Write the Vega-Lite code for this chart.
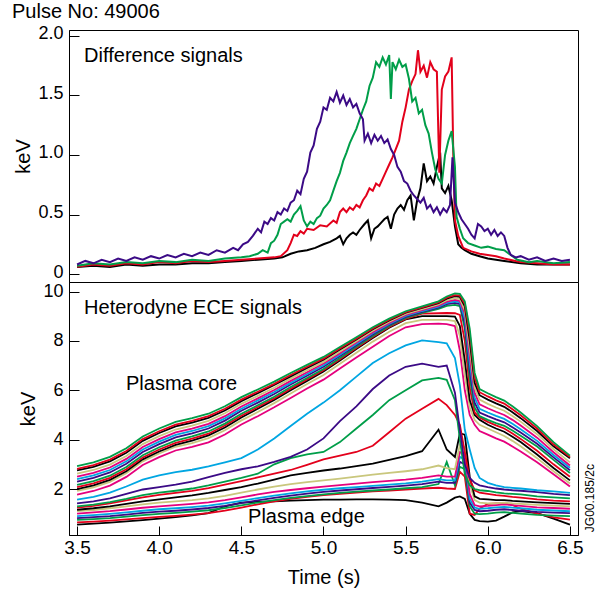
{
"$schema": "https://vega.github.io/schema/vega-lite/v6.json",
"background": "white",
"padding": {"left": 11, "top": 1, "right": 0, "bottom": 0},
"spacing": 0,
"bounds": "flush",
"resolve": {"scale": {"color": "independent"}},
"config": {
 "font": "Liberation Sans",
 "view": {"stroke": "#000", "strokeWidth": 1},
 "axis": {"domainColor": "#000", "tickColor": "#000", "labelColor": "#000", "titleColor": "#000", "grid": false, "labelFontSize": 19, "titleFontSize": 20, "titleFontWeight": "normal", "labelFont": "Liberation Sans", "titleFont": "Liberation Sans"}
},
"datasets": {
 "diff": [
{"s":"K","t":3.5,"v":0.06},{"s":"K","t":3.6,"v":0.07},{"s":"K","t":3.7,"v":0.06},{"s":"K","t":3.8,"v":0.08},{"s":"K","t":3.9,"v":0.07},{"s":"K","t":4.0,"v":0.08},{"s":"K","t":4.1,"v":0.08},{"s":"K","t":4.2,"v":0.09},{"s":"K","t":4.3,"v":0.09},{"s":"K","t":4.4,"v":0.10},{"s":"K","t":4.5,"v":0.11},{"s":"K","t":4.6,"v":0.12},{"s":"K","t":4.7,"v":0.13},{"s":"K","t":4.75,"v":0.14},{"s":"K","t":4.8,"v":0.17},{"s":"K","t":4.85,"v":0.19},{"s":"K","t":4.9,"v":0.20},{"s":"K","t":4.95,"v":0.22},{"s":"K","t":5.0,"v":0.25},{"s":"K","t":5.04,"v":0.27},{"s":"K","t":5.08,"v":0.30},{"s":"K","t":5.1,"v":0.32},{"s":"K","t":5.12,"v":0.25},{"s":"K","t":5.14,"v":0.30},{"s":"K","t":5.16,"v":0.33},{"s":"K","t":5.18,"v":0.35},{"s":"K","t":5.2,"v":0.33},{"s":"K","t":5.22,"v":0.37},{"s":"K","t":5.25,"v":0.42},{"s":"K","t":5.27,"v":0.45},{"s":"K","t":5.29,"v":0.30},{"s":"K","t":5.31,"v":0.38},{"s":"K","t":5.33,"v":0.40},{"s":"K","t":5.35,"v":0.43},{"s":"K","t":5.37,"v":0.46},{"s":"K","t":5.39,"v":0.48},{"s":"K","t":5.41,"v":0.38},{"s":"K","t":5.43,"v":0.50},{"s":"K","t":5.45,"v":0.55},{"s":"K","t":5.47,"v":0.58},{"s":"K","t":5.49,"v":0.54},{"s":"K","t":5.51,"v":0.62},{"s":"K","t":5.53,"v":0.66},{"s":"K","t":5.55,"v":0.45},{"s":"K","t":5.57,"v":0.62},{"s":"K","t":5.59,"v":0.72},{"s":"K","t":5.61,"v":0.93},{"s":"K","t":5.63,"v":0.78},{"s":"K","t":5.65,"v":0.82},{"s":"K","t":5.67,"v":0.76},{"s":"K","t":5.69,"v":0.90},{"s":"K","t":5.71,"v":1.02},{"s":"K","t":5.72,"v":0.72},{"s":"K","t":5.74,"v":0.68},{"s":"K","t":5.76,"v":0.74},{"s":"K","t":5.78,"v":0.62},{"s":"K","t":5.8,"v":0.40},{"s":"K","t":5.82,"v":0.25},{"s":"K","t":5.84,"v":0.22},{"s":"K","t":5.86,"v":0.20},{"s":"K","t":5.9,"v":0.17},{"s":"K","t":5.95,"v":0.15},{"s":"K","t":6.0,"v":0.13},{"s":"K","t":6.1,"v":0.11},{"s":"K","t":6.2,"v":0.09},{"s":"K","t":6.3,"v":0.08},{"s":"K","t":6.4,"v":0.08},{"s":"K","t":6.5,"v":0.08},
{"s":"R","t":3.5,"v":0.06},{"s":"R","t":3.6,"v":0.08},{"s":"R","t":3.7,"v":0.07},{"s":"R","t":3.8,"v":0.09},{"s":"R","t":3.9,"v":0.08},{"s":"R","t":4.0,"v":0.10},{"s":"R","t":4.1,"v":0.09},{"s":"R","t":4.2,"v":0.11},{"s":"R","t":4.3,"v":0.10},{"s":"R","t":4.4,"v":0.11},{"s":"R","t":4.5,"v":0.12},{"s":"R","t":4.6,"v":0.13},{"s":"R","t":4.7,"v":0.14},{"s":"R","t":4.74,"v":0.15},{"s":"R","t":4.78,"v":0.20},{"s":"R","t":4.8,"v":0.26},{"s":"R","t":4.82,"v":0.33},{"s":"R","t":4.84,"v":0.32},{"s":"R","t":4.86,"v":0.36},{"s":"R","t":4.88,"v":0.34},{"s":"R","t":4.9,"v":0.38},{"s":"R","t":4.94,"v":0.37},{"s":"R","t":4.98,"v":0.41},{"s":"R","t":5.02,"v":0.40},{"s":"R","t":5.06,"v":0.45},{"s":"R","t":5.08,"v":0.43},{"s":"R","t":5.1,"v":0.52},{"s":"R","t":5.12,"v":0.55},{"s":"R","t":5.14,"v":0.52},{"s":"R","t":5.16,"v":0.56},{"s":"R","t":5.18,"v":0.54},{"s":"R","t":5.2,"v":0.58},{"s":"R","t":5.22,"v":0.56},{"s":"R","t":5.24,"v":0.62},{"s":"R","t":5.26,"v":0.66},{"s":"R","t":5.28,"v":0.72},{"s":"R","t":5.3,"v":0.70},{"s":"R","t":5.32,"v":0.76},{"s":"R","t":5.34,"v":0.74},{"s":"R","t":5.36,"v":0.80},{"s":"R","t":5.38,"v":0.86},{"s":"R","t":5.4,"v":0.92},{"s":"R","t":5.42,"v":0.98},{"s":"R","t":5.44,"v":1.05},{"s":"R","t":5.46,"v":1.12},{"s":"R","t":5.48,"v":1.28},{"s":"R","t":5.5,"v":1.40},{"s":"R","t":5.52,"v":1.55},{"s":"R","t":5.54,"v":1.62},{"s":"R","t":5.56,"v":1.68},{"s":"R","t":5.575,"v":1.88},{"s":"R","t":5.59,"v":1.70},{"s":"R","t":5.61,"v":1.75},{"s":"R","t":5.63,"v":1.65},{"s":"R","t":5.65,"v":1.78},{"s":"R","t":5.67,"v":1.72},{"s":"R","t":5.69,"v":1.70},{"s":"R","t":5.705,"v":0.85},{"s":"R","t":5.72,"v":1.55},{"s":"R","t":5.74,"v":1.66},{"s":"R","t":5.76,"v":1.70},{"s":"R","t":5.78,"v":1.82},{"s":"R","t":5.79,"v":1.0},{"s":"R","t":5.8,"v":0.45},{"s":"R","t":5.82,"v":0.32},{"s":"R","t":5.85,"v":0.22},{"s":"R","t":5.9,"v":0.19},{"s":"R","t":5.95,"v":0.17},{"s":"R","t":6.0,"v":0.16},{"s":"R","t":6.05,"v":0.15},{"s":"R","t":6.1,"v":0.13},{"s":"R","t":6.2,"v":0.10},{"s":"R","t":6.3,"v":0.09},{"s":"R","t":6.4,"v":0.08},{"s":"R","t":6.5,"v":0.08},
{"s":"G","t":3.5,"v":0.07},{"s":"G","t":3.6,"v":0.09},{"s":"G","t":3.7,"v":0.08},{"s":"G","t":3.8,"v":0.10},{"s":"G","t":3.9,"v":0.09},{"s":"G","t":4.0,"v":0.11},{"s":"G","t":4.1,"v":0.10},{"s":"G","t":4.2,"v":0.12},{"s":"G","t":4.3,"v":0.11},{"s":"G","t":4.4,"v":0.13},{"s":"G","t":4.5,"v":0.14},{"s":"G","t":4.55,"v":0.15},{"s":"G","t":4.6,"v":0.17},{"s":"G","t":4.63,"v":0.20},{"s":"G","t":4.66,"v":0.18},{"s":"G","t":4.68,"v":0.26},{"s":"G","t":4.7,"v":0.28},{"s":"G","t":4.72,"v":0.33},{"s":"G","t":4.74,"v":0.42},{"s":"G","t":4.76,"v":0.44},{"s":"G","t":4.78,"v":0.46},{"s":"G","t":4.8,"v":0.44},{"s":"G","t":4.82,"v":0.50},{"s":"G","t":4.84,"v":0.53},{"s":"G","t":4.86,"v":0.57},{"s":"G","t":4.88,"v":0.45},{"s":"G","t":4.9,"v":0.40},{"s":"G","t":4.92,"v":0.44},{"s":"G","t":4.94,"v":0.42},{"s":"G","t":4.96,"v":0.47},{"s":"G","t":4.98,"v":0.49},{"s":"G","t":5.0,"v":0.55},{"s":"G","t":5.02,"v":0.58},{"s":"G","t":5.04,"v":0.62},{"s":"G","t":5.06,"v":0.70},{"s":"G","t":5.08,"v":0.78},{"s":"G","t":5.1,"v":0.85},{"s":"G","t":5.12,"v":0.95},{"s":"G","t":5.14,"v":1.02},{"s":"G","t":5.16,"v":1.10},{"s":"G","t":5.18,"v":1.16},{"s":"G","t":5.2,"v":1.22},{"s":"G","t":5.22,"v":1.30},{"s":"G","t":5.24,"v":1.38},{"s":"G","t":5.26,"v":1.45},{"s":"G","t":5.28,"v":1.58},{"s":"G","t":5.3,"v":1.65},{"s":"G","t":5.32,"v":1.78},{"s":"G","t":5.34,"v":1.74},{"s":"G","t":5.36,"v":1.82},{"s":"G","t":5.38,"v":1.76},{"s":"G","t":5.4,"v":1.84},{"s":"G","t":5.41,"v":1.47},{"s":"G","t":5.42,"v":1.78},{"s":"G","t":5.44,"v":1.72},{"s":"G","t":5.46,"v":1.80},{"s":"G","t":5.48,"v":1.74},{"s":"G","t":5.5,"v":1.76},{"s":"G","t":5.52,"v":1.64},{"s":"G","t":5.54,"v":1.45},{"s":"G","t":5.56,"v":1.48},{"s":"G","t":5.58,"v":1.35},{"s":"G","t":5.6,"v":1.38},{"s":"G","t":5.62,"v":1.25},{"s":"G","t":5.64,"v":1.18},{"s":"G","t":5.66,"v":1.02},{"s":"G","t":5.68,"v":0.88},{"s":"G","t":5.7,"v":0.80},{"s":"G","t":5.72,"v":0.76},{"s":"G","t":5.74,"v":1.00},{"s":"G","t":5.76,"v":1.12},{"s":"G","t":5.78,"v":1.20},{"s":"G","t":5.8,"v":0.90},{"s":"G","t":5.81,"v":0.48},{"s":"G","t":5.83,"v":0.38},{"s":"G","t":5.85,"v":0.30},{"s":"G","t":5.88,"v":0.26},{"s":"G","t":5.92,"v":0.24},{"s":"G","t":5.96,"v":0.22},{"s":"G","t":6.0,"v":0.23},{"s":"G","t":6.05,"v":0.21},{"s":"G","t":6.1,"v":0.20},{"s":"G","t":6.14,"v":0.16},{"s":"G","t":6.18,"v":0.12},{"s":"G","t":6.25,"v":0.10},{"s":"G","t":6.3,"v":0.11},{"s":"G","t":6.4,"v":0.09},{"s":"G","t":6.5,"v":0.10},
{"s":"P","t":3.5,"v":0.08},{"s":"P","t":3.55,"v":0.11},{"s":"P","t":3.6,"v":0.09},{"s":"P","t":3.65,"v":0.12},{"s":"P","t":3.7,"v":0.10},{"s":"P","t":3.75,"v":0.13},{"s":"P","t":3.8,"v":0.11},{"s":"P","t":3.85,"v":0.14},{"s":"P","t":3.9,"v":0.12},{"s":"P","t":3.95,"v":0.15},{"s":"P","t":4.0,"v":0.13},{"s":"P","t":4.05,"v":0.16},{"s":"P","t":4.1,"v":0.14},{"s":"P","t":4.15,"v":0.17},{"s":"P","t":4.2,"v":0.15},{"s":"P","t":4.25,"v":0.18},{"s":"P","t":4.3,"v":0.16},{"s":"P","t":4.35,"v":0.20},{"s":"P","t":4.4,"v":0.18},{"s":"P","t":4.45,"v":0.22},{"s":"P","t":4.48,"v":0.20},{"s":"P","t":4.51,"v":0.25},{"s":"P","t":4.54,"v":0.27},{"s":"P","t":4.57,"v":0.32},{"s":"P","t":4.6,"v":0.38},{"s":"P","t":4.62,"v":0.35},{"s":"P","t":4.64,"v":0.44},{"s":"P","t":4.66,"v":0.42},{"s":"P","t":4.68,"v":0.47},{"s":"P","t":4.7,"v":0.45},{"s":"P","t":4.72,"v":0.52},{"s":"P","t":4.74,"v":0.50},{"s":"P","t":4.76,"v":0.55},{"s":"P","t":4.78,"v":0.53},{"s":"P","t":4.8,"v":0.60},{"s":"P","t":4.82,"v":0.62},{"s":"P","t":4.84,"v":0.70},{"s":"P","t":4.86,"v":0.67},{"s":"P","t":4.88,"v":0.80},{"s":"P","t":4.9,"v":0.86},{"s":"P","t":4.92,"v":1.02},{"s":"P","t":4.94,"v":1.08},{"s":"P","t":4.96,"v":1.22},{"s":"P","t":4.98,"v":1.28},{"s":"P","t":5.0,"v":1.40},{"s":"P","t":5.02,"v":1.38},{"s":"P","t":5.04,"v":1.48},{"s":"P","t":5.06,"v":1.45},{"s":"P","t":5.08,"v":1.53},{"s":"P","t":5.1,"v":1.44},{"s":"P","t":5.12,"v":1.50},{"s":"P","t":5.14,"v":1.42},{"s":"P","t":5.16,"v":1.47},{"s":"P","t":5.18,"v":1.40},{"s":"P","t":5.2,"v":1.43},{"s":"P","t":5.22,"v":1.35},{"s":"P","t":5.24,"v":1.30},{"s":"P","t":5.25,"v":1.12},{"s":"P","t":5.27,"v":1.18},{"s":"P","t":5.29,"v":1.10},{"s":"P","t":5.31,"v":1.17},{"s":"P","t":5.33,"v":1.12},{"s":"P","t":5.35,"v":1.16},{"s":"P","t":5.37,"v":1.10},{"s":"P","t":5.39,"v":1.13},{"s":"P","t":5.41,"v":1.05},{"s":"P","t":5.43,"v":1.00},{"s":"P","t":5.45,"v":0.90},{"s":"P","t":5.47,"v":0.86},{"s":"P","t":5.49,"v":0.78},{"s":"P","t":5.51,"v":0.76},{"s":"P","t":5.53,"v":0.70},{"s":"P","t":5.55,"v":0.66},{"s":"P","t":5.57,"v":0.63},{"s":"P","t":5.59,"v":0.60},{"s":"P","t":5.61,"v":0.64},{"s":"P","t":5.63,"v":0.55},{"s":"P","t":5.65,"v":0.58},{"s":"P","t":5.67,"v":0.52},{"s":"P","t":5.69,"v":0.56},{"s":"P","t":5.71,"v":0.50},{"s":"P","t":5.73,"v":0.55},{"s":"P","t":5.75,"v":0.52},{"s":"P","t":5.77,"v":0.58},{"s":"P","t":5.785,"v":0.98},{"s":"P","t":5.8,"v":0.60},{"s":"P","t":5.82,"v":0.52},{"s":"P","t":5.84,"v":0.46},{"s":"P","t":5.86,"v":0.42},{"s":"P","t":5.88,"v":0.38},{"s":"P","t":5.9,"v":0.33},{"s":"P","t":5.92,"v":0.30},{"s":"P","t":5.94,"v":0.42},{"s":"P","t":5.96,"v":0.40},{"s":"P","t":5.98,"v":0.36},{"s":"P","t":6.0,"v":0.38},{"s":"P","t":6.02,"v":0.33},{"s":"P","t":6.04,"v":0.37},{"s":"P","t":6.06,"v":0.32},{"s":"P","t":6.08,"v":0.35},{"s":"P","t":6.1,"v":0.32},{"s":"P","t":6.12,"v":0.22},{"s":"P","t":6.14,"v":0.16},{"s":"P","t":6.17,"v":0.14},{"s":"P","t":6.2,"v":0.15},{"s":"P","t":6.25,"v":0.12},{"s":"P","t":6.3,"v":0.14},{"s":"P","t":6.35,"v":0.11},{"s":"P","t":6.4,"v":0.13},{"s":"P","t":6.45,"v":0.11},{"s":"P","t":6.5,"v":0.12}
 ],
 "ece": [
{"t":3.5,"c01":2.93,"c02":2.82,"c03":2.75,"c04":2.62,"c05":2.5,"c06":2.4,"c07":2.3,"c08":2.17,"c09":2.08,"c10":2.0,"c11":1.92,"c12":1.77,"c13":1.57,"c14":1.42,"c15":1.3,"c16":1.25,"c17":1.16,"c18":1.1,"c19":1.0,"c20":0.9,"c21":0.82,"c22":0.75,"c23":0.65,"c24":0.56},
{"t":3.6,"c01":3.08,"c02":2.97,"c03":2.9,"c04":2.77,"c05":2.65,"c06":2.55,"c07":2.45,"c08":2.32,"c09":2.23,"c10":2.15,"c11":2.07,"c12":1.92,"c13":1.68,"c14":1.5,"c15":1.37,"c16":1.32,"c17":1.22,"c18":1.15,"c19":1.05,"c20":0.94,"c21":0.86,"c22":0.78,"c23":0.68,"c24":0.6},
{"t":3.7,"c01":3.3,"c02":3.19,"c03":3.12,"c04":2.99,"c05":2.87,"c06":2.77,"c07":2.67,"c08":2.54,"c09":2.45,"c10":2.37,"c11":2.29,"c12":2.14,"c13":1.85,"c14":1.62,"c15":1.47,"c16":1.42,"c17":1.3,"c18":1.22,"c19":1.1,"c20":0.99,"c21":0.9,"c22":0.82,"c23":0.72,"c24":0.64},
{"t":3.8,"c01":3.65,"c02":3.54,"c03":3.47,"c04":3.34,"c05":3.22,"c06":3.12,"c07":3.02,"c08":2.89,"c09":2.8,"c10":2.72,"c11":2.64,"c12":2.49,"c13":2.1,"c14":1.8,"c15":1.6,"c16":1.54,"c17":1.4,"c18":1.3,"c19":1.17,"c20":1.05,"c21":0.96,"c22":0.88,"c23":0.77,"c24":0.69},
{"t":3.9,"c01":4.13,"c02":4.02,"c03":3.95,"c04":3.82,"c05":3.7,"c06":3.6,"c07":3.5,"c08":3.37,"c09":3.28,"c10":3.2,"c11":3.12,"c12":2.97,"c13":2.38,"c14":1.98,"c15":1.75,"c16":1.66,"c17":1.5,"c18":1.38,"c19":1.24,"c20":1.12,"c21":1.03,"c22":0.94,"c23":0.82,"c24":0.74},
{"t":4.0,"c01":4.45,"c02":4.34,"c03":4.27,"c04":4.14,"c05":4.02,"c06":3.92,"c07":3.82,"c08":3.69,"c09":3.6,"c10":3.52,"c11":3.44,"c12":3.29,"c13":2.55,"c14":2.08,"c15":1.85,"c16":1.76,"c17":1.58,"c18":1.45,"c19":1.3,"c20":1.18,"c21":1.08,"c22":0.99,"c23":0.87,"c24":0.8},
{"t":4.1,"c01":4.72,"c02":4.61,"c03":4.54,"c04":4.41,"c05":4.29,"c06":4.19,"c07":4.09,"c08":3.96,"c09":3.87,"c10":3.79,"c11":3.71,"c12":3.56,"c13":2.68,"c14":2.18,"c15":1.93,"c16":1.84,"c17":1.66,"c18":1.5,"c19":1.35,"c20":1.22,"c21":1.12,"c22":1.03,"c23":0.91,"c24":0.86},
{"t":4.2,"c01":4.87,"c02":4.76,"c03":4.69,"c04":4.57,"c05":4.45,"c06":4.35,"c07":4.25,"c08":4.13,"c09":4.04,"c10":3.96,"c11":3.86,"c12":3.71,"c13":2.78,"c14":2.3,"c15":2.02,"c16":1.92,"c17":1.74,"c18":1.55,"c19":1.4,"c20":1.27,"c21":1.17,"c22":1.08,"c23":0.96,"c24":0.93},
{"t":4.3,"c01":5.05,"c02":4.95,"c03":4.88,"c04":4.76,"c05":4.64,"c06":4.55,"c07":4.45,"c08":4.33,"c09":4.24,"c10":4.17,"c11":4.06,"c12":3.89,"c13":2.92,"c14":2.48,"c15":2.15,"c16":2.04,"c17":1.84,"c18":1.62,"c19":1.46,"c20":1.33,"c21":1.23,"c22":1.14,"c23":1.02,"c24":1.02},
{"t":4.4,"c01":5.35,"c02":5.25,"c03":5.18,"c04":5.07,"c05":4.95,"c06":4.86,"c07":4.77,"c08":4.65,"c09":4.57,"c10":4.49,"c11":4.38,"c12":4.21,"c13":3.08,"c14":2.65,"c15":2.3,"c16":2.18,"c17":1.96,"c18":1.72,"c19":1.55,"c20":1.42,"c21":1.32,"c22":1.23,"c23":1.12,"c24":1.3},
{"t":4.5,"c01":5.72,"c02":5.62,"c03":5.56,"c04":5.45,"c05":5.34,"c06":5.25,"c07":5.17,"c08":5.05,"c09":4.97,"c10":4.9,"c11":4.78,"c12":4.61,"c13":3.25,"c14":2.8,"c15":2.45,"c16":2.32,"c17":2.08,"c18":1.85,"c19":1.66,"c20":1.52,"c21":1.43,"c22":1.34,"c23":1.25,"c24":1.45},
{"t":4.6,"c01":6.03,"c02":5.94,"c03":5.88,"c04":5.77,"c05":5.67,"c06":5.59,"c07":5.5,"c08":5.39,"c09":5.32,"c10":5.25,"c11":5.12,"c12":4.95,"c13":3.6,"c14":2.92,"c15":2.62,"c16":2.47,"c17":2.22,"c18":1.98,"c19":1.78,"c20":1.63,"c21":1.54,"c22":1.45,"c23":1.38,"c24":1.48},
{"t":4.7,"c01":6.35,"c02":6.26,"c03":6.21,"c04":6.1,"c05":6.01,"c06":5.93,"c07":5.85,"c08":5.74,"c09":5.67,"c10":5.61,"c11":5.48,"c12":5.31,"c13":4.05,"c14":3.1,"c15":3.0,"c16":2.62,"c17":2.38,"c18":2.1,"c19":1.88,"c20":1.73,"c21":1.64,"c22":1.55,"c23":1.5,"c24":1.5},
{"t":4.8,"c01":6.7,"c02":6.62,"c03":6.56,"c04":6.47,"c05":6.38,"c06":6.3,"c07":6.23,"c08":6.13,"c09":6.06,"c10":6.0,"c11":5.87,"c12":5.69,"c13":4.55,"c14":3.3,"c15":3.25,"c16":2.77,"c17":2.55,"c18":2.2,"c19":1.96,"c20":1.82,"c21":1.73,"c22":1.64,"c23":1.6,"c24":1.53},
{"t":4.9,"c01":7.03,"c02":6.95,"c03":6.9,"c04":6.81,"c05":6.73,"c06":6.66,"c07":6.59,"c08":6.5,"c09":6.44,"c10":6.38,"c11":6.25,"c12":6.07,"c13":5.05,"c14":3.6,"c15":3.4,"c16":2.98,"c17":2.65,"c18":2.28,"c19":2.03,"c20":1.9,"c21":1.81,"c22":1.71,"c23":1.68,"c24":1.55},
{"t":5.0,"c01":7.35,"c02":7.28,"c03":7.24,"c04":7.15,"c05":7.08,"c06":7.01,"c07":6.95,"c08":6.86,"c09":6.81,"c10":6.76,"c11":6.62,"c12":6.43,"c13":5.5,"c14":4.05,"c15":3.5,"c16":3.2,"c17":2.75,"c18":2.35,"c19":2.1,"c20":1.97,"c21":1.88,"c22":1.78,"c23":1.75,"c24":1.57},
{"t":5.1,"c01":7.75,"c02":7.69,"c03":7.65,"c04":7.57,"c05":7.5,"c06":7.44,"c07":7.39,"c08":7.31,"c09":7.26,"c10":7.21,"c11":7.07,"c12":6.88,"c13":6.0,"c14":4.75,"c15":3.9,"c16":3.35,"c17":2.83,"c18":2.42,"c19":2.16,"c20":2.03,"c21":1.94,"c22":1.84,"c23":1.8,"c24":1.57},
{"t":5.2,"c01":8.15,"c02":8.09,"c03":8.06,"c04":7.99,"c05":7.93,"c06":7.87,"c07":7.82,"c08":7.76,"c09":7.71,"c10":7.67,"c11":7.52,"c12":7.33,"c13":6.55,"c14":5.35,"c15":4.45,"c16":3.5,"c17":2.93,"c18":2.5,"c19":2.22,"c20":2.08,"c21":1.99,"c22":1.89,"c23":1.85,"c24":1.58},
{"t":5.3,"c01":8.55,"c02":8.5,"c03":8.47,"c04":8.41,"c05":8.35,"c06":8.31,"c07":8.26,"c08":8.2,"c09":8.16,"c10":8.12,"c11":7.97,"c12":7.76,"c13":7.1,"c14":6.05,"c15":5.0,"c16":3.75,"c17":3.03,"c18":2.58,"c19":2.28,"c20":2.13,"c21":2.04,"c22":1.94,"c23":1.9,"c24":1.58},
{"t":5.4,"c01":8.9,"c02":8.86,"c03":8.83,"c04":8.78,"c05":8.73,"c06":8.69,"c07":8.65,"c08":8.6,"c09":8.56,"c10":8.53,"c11":8.37,"c12":8.2,"c13":7.5,"c14":6.6,"c15":5.6,"c16":4.3,"c17":3.18,"c18":2.65,"c19":2.33,"c20":2.18,"c21":2.09,"c22":1.98,"c23":1.94,"c24":1.57},
{"t":5.5,"c01":9.2,"c02":9.16,"c03":9.14,"c04":9.09,"c05":9.05,"c06":9.01,"c07":8.97,"c08":8.93,"c09":8.89,"c10":8.87,"c11":8.72,"c12":8.55,"c13":7.82,"c14":6.95,"c15":6.0,"c16":4.85,"c17":3.33,"c18":2.72,"c19":2.38,"c20":2.23,"c21":2.14,"c22":2.03,"c23":1.98,"c24":1.55},
{"t":5.6,"c01":9.4,"c02":9.36,"c03":9.34,"c04":9.29,"c05":9.25,"c06":9.21,"c07":9.17,"c08":9.13,"c09":9.1,"c10":9.0,"c11":8.85,"c12":8.68,"c13":8.02,"c14":7.08,"c15":6.4,"c16":5.25,"c17":3.53,"c18":2.8,"c19":2.45,"c20":2.3,"c21":2.2,"c22":2.08,"c23":2.02,"c24":1.45},
{"t":5.7,"c01":9.6,"c02":9.56,"c03":9.53,"c04":9.48,"c05":9.43,"c06":9.39,"c07":9.35,"c08":9.3,"c09":9.12,"c10":9.0,"c11":8.85,"c12":8.7,"c13":7.95,"c14":6.95,"c15":6.5,"c16":5.65,"c17":4.4,"c18":2.95,"c19":2.55,"c20":2.4,"c21":2.3,"c22":2.2,"c23":2.05,"c24":1.3},
{"t":5.75,"c01":9.8,"c02":9.75,"c03":9.71,"c04":9.65,"c05":9.59,"c06":9.54,"c07":9.49,"c08":9.42,"c09":9.13,"c10":9.0,"c11":8.85,"c12":8.68,"c13":7.9,"c14":7.0,"c15":6.42,"c16":5.4,"c17":3.6,"c18":2.85,"c19":2.5,"c20":2.35,"c21":2.25,"c22":3.1,"c23":2.02,"c24":1.45},
{"t":5.8,"c01":9.92,"c02":9.85,"c03":9.81,"c04":9.73,"c05":9.66,"c06":9.6,"c07":9.54,"c08":9.46,"c09":9.12,"c10":8.98,"c11":8.8,"c12":8.6,"c13":7.3,"c14":5.9,"c15":5.6,"c16":5.0,"c17":3.3,"c18":2.8,"c19":2.5,"c20":2.35,"c21":2.25,"c22":2.15,"c23":2.0,"c24":1.65},
{"t":5.83,"c01":9.9,"c02":9.83,"c03":9.78,"c04":9.7,"c05":9.62,"c06":9.56,"c07":9.49,"c08":9.41,"c09":9.05,"c10":8.6,"c11":8.2,"c12":7.6,"c13":6.2,"c14":4.4,"c15":4.0,"c16":4.6,"c17":4.25,"c18":3.8,"c19":3.5,"c20":3.3,"c21":3.1,"c22":2.9,"c23":2.7,"c24":1.7},
{"t":5.86,"c01":9.6,"c02":9.5,"c03":9.4,"c04":9.25,"c05":9.1,"c06":8.9,"c07":8.7,"c08":8.5,"c09":8.0,"c10":7.2,"c11":6.6,"c12":6.0,"c13":4.4,"c14":3.0,"c15":2.6,"c16":3.5,"c17":4.2,"c18":3.7,"c19":3.4,"c20":3.2,"c21":3.0,"c22":2.8,"c23":2.5,"c24":1.6},
{"t":5.89,"c01":8.5,"c02":8.3,"c03":8.0,"c04":7.7,"c05":7.4,"c06":7.1,"c07":6.8,"c08":6.5,"c09":6.1,"c10":5.6,"c11":5.3,"c12":5.0,"c13":3.6,"c14":2.45,"c15":2.15,"c16":2.4,"c17":2.5,"c18":2.2,"c19":1.8,"c20":1.6,"c21":1.45,"c22":1.3,"c23":1.0,"c24":1.0},
{"t":5.92,"c01":6.7,"c02":6.5,"c03":6.3,"c04":6.1,"c05":5.9,"c06":5.7,"c07":5.5,"c08":5.3,"c09":5.1,"c10":5.0,"c11":4.8,"c12":4.6,"c13":2.85,"c14":2.25,"c15":2.0,"c16":1.95,"c17":1.7,"c18":1.55,"c19":1.35,"c20":1.25,"c21":1.15,"c22":1.0,"c23":0.95,"c24":0.75},
{"t":5.95,"c01":6.05,"c02":5.92,"c03":5.8,"c04":5.62,"c05":5.43,"c06":5.25,"c07":5.1,"c08":4.95,"c09":4.9,"c10":4.8,"c11":4.6,"c12":4.35,"c13":2.45,"c14":2.15,"c15":1.95,"c16":1.85,"c17":1.6,"c18":1.45,"c19":1.3,"c20":1.2,"c21":1.1,"c22":0.98,"c23":1.2,"c24":0.7},
{"t":6.0,"c01":5.88,"c02":5.75,"c03":5.62,"c04":5.45,"c05":5.27,"c06":5.1,"c07":4.95,"c08":4.8,"c09":4.72,"c10":4.6,"c11":4.45,"c12":4.2,"c13":2.25,"c14":2.08,"c15":1.92,"c16":1.8,"c17":1.58,"c18":1.42,"c19":1.32,"c20":1.22,"c21":1.12,"c22":1.0,"c23":1.4,"c24":0.68},
{"t":6.05,"c01":5.72,"c02":5.59,"c03":5.47,"c04":5.3,"c05":5.13,"c06":4.96,"c07":4.82,"c08":4.67,"c09":4.58,"c10":4.45,"c11":4.3,"c12":4.05,"c13":2.15,"c14":2.02,"c15":1.86,"c16":1.75,"c17":1.55,"c18":1.42,"c19":1.35,"c20":1.26,"c21":1.16,"c22":1.04,"c23":1.42,"c24":0.72},
{"t":6.1,"c01":5.58,"c02":5.46,"c03":5.33,"c04":5.17,"c05":5.0,"c06":4.84,"c07":4.7,"c08":4.56,"c09":4.45,"c10":4.32,"c11":4.15,"c12":3.92,"c13":2.08,"c14":1.98,"c15":1.82,"c16":1.72,"c17":1.55,"c18":1.45,"c19":1.38,"c20":1.28,"c21":1.18,"c22":1.06,"c23":1.42,"c24":0.88},
{"t":6.15,"c01":5.35,"c02":5.23,"c03":5.11,"c04":4.96,"c05":4.8,"c06":4.64,"c07":4.5,"c08":4.37,"c09":4.25,"c10":4.12,"c11":3.95,"c12":3.72,"c13":2.05,"c14":1.95,"c15":1.8,"c16":1.68,"c17":1.52,"c18":1.42,"c19":1.35,"c20":1.25,"c21":1.15,"c22":1.03,"c23":1.35,"c24":1.05},
{"t":6.2,"c01":5.1,"c02":4.99,"c03":4.87,"c04":4.73,"c05":4.57,"c06":4.42,"c07":4.29,"c08":4.16,"c09":4.03,"c10":3.9,"c11":3.73,"c12":3.52,"c13":2.02,"c14":1.93,"c15":1.78,"c16":1.65,"c17":1.5,"c18":1.4,"c19":1.32,"c20":1.22,"c21":1.12,"c22":1.0,"c23":1.2,"c24":1.1},
{"t":6.3,"c01":4.55,"c02":4.45,"c03":4.35,"c04":4.22,"c05":4.08,"c06":3.95,"c07":3.83,"c08":3.72,"c09":3.55,"c10":3.4,"c11":3.25,"c12":3.08,"c13":1.95,"c14":1.87,"c15":1.7,"c16":1.58,"c17":1.46,"c18":1.36,"c19":1.26,"c20":1.16,"c21":1.07,"c22":0.95,"c23":1.0,"c24":1.02},
{"t":6.4,"c01":3.9,"c02":3.81,"c03":3.73,"c04":3.61,"c05":3.49,"c06":3.38,"c07":3.28,"c08":3.18,"c09":3.0,"c10":2.85,"c11":2.72,"c12":2.6,"c13":1.9,"c14":1.8,"c15":1.66,"c16":1.53,"c17":1.43,"c18":1.33,"c19":1.23,"c20":1.13,"c21":1.04,"c22":0.92,"c23":0.85,"c24":0.8},
{"t":6.5,"c01":3.35,"c02":3.3,"c03":3.25,"c04":3.08,"c05":2.95,"c06":2.86,"c07":2.76,"c08":2.65,"c09":2.5,"c10":2.35,"c11":2.22,"c12":2.1,"c13":1.84,"c14":1.75,"c15":1.62,"c16":1.5,"c17":1.4,"c18":1.3,"c19":1.2,"c20":1.1,"c21":1.02,"c22":0.9,"c23":0.76,"c24":0.56}
 ],
 "notesTop": [{"t": 3.543, "v": 1.78, "label": "Difference signals"}],
 "notesBot": [
  {"t": 3.543, "v": 9.07, "label": "Heterodyne ECE signals"},
  {"t": 3.798, "v": 6.02, "label": "Plasma core"},
  {"t": 4.541, "v": 0.62, "label": "Plasma edge"}
 ],
 "code": [{"t": 6.622, "v": 1.63, "label": "JG00.185/2c"}]
},
"vconcat": [
 {
  "width": 509, "height": 252,
  "title": {"text": "Pulse No: 49006", "anchor": "start", "fontSize": 20, "fontWeight": "normal", "font": "Liberation Sans", "color": "#000", "offset": 3, "dx": -2},
  "layer": [
   {
    "data": {"name": "diff"},
    "mark": {"type": "line", "strokeWidth": 2, "clip": true},
    "encoding": {
     "x": {"field": "t", "type": "quantitative", "scale": {"domain": [3.451, 6.549], "nice": false, "zero": false}, "axis": null},
     "y": {"field": "v", "type": "quantitative", "scale": {"domain": [-0.067, 2.05], "nice": false, "zero": false},
       "axis": {"title": "keV", "values": [0, 0.5, 1, 1.5, 2], "labelExpr": "datum.value == 0 ? '0' : format(datum.value, '.1f')", "tickSize": -10, "labelPadding": 16, "titlePadding": 4, "labelFontSize": 18, "labelOffset": -2}},
     "color": {"field": "s", "type": "nominal", "scale": {"domain": ["K", "R", "G", "P"], "range": ["#000000", "#e3001b", "#009e49", "#3b0a86"]}, "legend": null}
    }
   },
   {
    "data": {"name": "notesTop"},
    "mark": {"type": "text", "align": "left", "baseline": "alphabetic", "fontSize": 20, "font": "Liberation Sans", "color": "#000"},
    "encoding": {
     "x": {"field": "t", "type": "quantitative", "axis": null},
     "y": {"field": "v", "type": "quantitative"},
     "text": {"field": "label"}
    }
   }
  ]
 },
 {
  "width": 509, "height": 253,
  "layer": [
   {
    "data": {"name": "ece"},
    "transform": [{"fold": ["c24","c23","c22","c21","c20","c19","c18","c17","c16","c15","c14","c13","c12","c11","c10","c09","c08","c07","c06","c05","c04","c03","c02","c01"], "as": ["ch", "v"]}],
    "mark": {"type": "line", "strokeWidth": 1.8, "clip": true},
    "encoding": {
     "x": {"field": "t", "type": "quantitative", "scale": {"domain": [3.451, 6.549], "nice": false, "zero": false},
       "axis": {"title": "Time (s)", "values": [3.5, 4, 4.5, 5, 5.5, 6, 6.5], "format": ".1f", "tickSize": -9, "labelPadding": 12, "titlePadding": 10}},
     "y": {"field": "v", "type": "quantitative", "scale": {"domain": [0.137, 10.385], "nice": false, "zero": false},
       "axis": {"title": "keV", "values": [2, 4, 6, 8, 10], "tickSize": -10, "labelPadding": 16, "titlePadding": 4, "labelFontSize": 18, "labelOffset": 0}},
     "color": {"field": "ch", "type": "nominal", "legend": null, "scale": {
       "domain": ["c01","c02","c03","c04","c05","c06","c07","c08","c09","c10","c11","c12","c13","c14","c15","c16","c17","c18","c19","c20","c21","c22","c23","c24"],
       "range": ["#009e49","#e3001b","#000000","#c9c77d","#e5007d","#00a6e2","#3b0a86","#009e49","#e3001b","#000000","#c9c77d","#e5007d","#00a6e2","#3b0a86","#009e49","#e3001b","#000000","#c9c77d","#e5007d","#00a6e2","#3b0a86","#009e49","#e3001b","#000000"]}}
    }
   },
   {
    "data": {"name": "notesBot"},
    "mark": {"type": "text", "align": "left", "baseline": "alphabetic", "fontSize": 20, "font": "Liberation Sans", "color": "#000"},
    "encoding": {
     "x": {"field": "t", "type": "quantitative"},
     "y": {"field": "v", "type": "quantitative"},
     "text": {"field": "label"}
    }
   },
   {
    "data": {"name": "code"},
    "mark": {"type": "text", "align": "center", "baseline": "middle", "angle": 270, "fontSize": 12, "font": "Liberation Sans", "color": "#000"},
    "encoding": {
     "x": {"field": "t", "type": "quantitative"},
     "y": {"field": "v", "type": "quantitative"},
     "text": {"field": "label"}
    }
   }
  ]
 }
]
}
